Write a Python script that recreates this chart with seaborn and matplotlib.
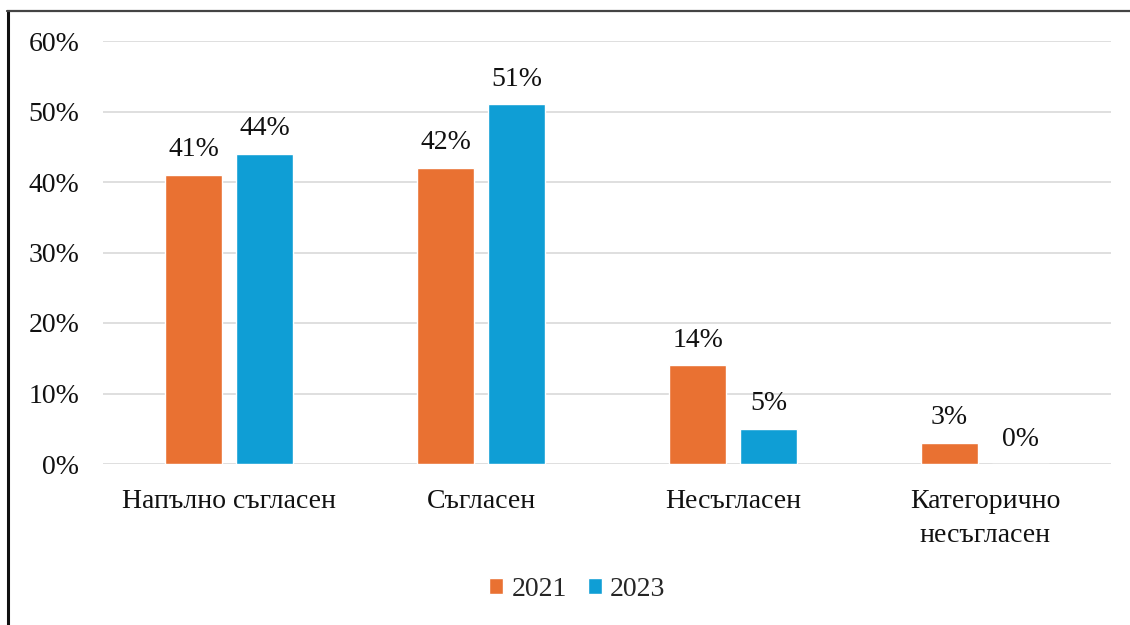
import matplotlib
matplotlib.use("Agg")
import matplotlib.pyplot as plt
from matplotlib.lines import Line2D
from matplotlib.ticker import PercentFormatter
import seaborn as sns
import pandas as pd

categories = ["Напълно съгласен", "Съгласен", "Несъгласен", "Категорично\nнесъгласен"]
years = ["2021", "2023"]
values_2021 = [41, 42, 14, 3]
values_2023 = [44, 51, 5, 0]
y_ticks = [0, 10, 20, 30, 40, 50, 60]

colors = {"2021": "#E97132", "2023": "#0F9ED5"}

df = pd.DataFrame({
    "category": categories * 2,
    "year": [years[0]] * len(categories) + [years[1]] * len(categories),
    "value": values_2021 + values_2023,
})

sns.set_theme(style="white")
plt.rcParams["font.family"] = ["Liberation Serif", "DejaVu Serif"]

fig = plt.figure(figsize=(11.3, 6.25), dpi=100)
ax = fig.add_axes([0.0912, 0.2576, 0.8920, 0.6768])

sns.barplot(data=df, x="category", y="value", hue="year", order=categories,
            hue_order=years, palette=colors, width=0.563, gap=0.2,
            saturation=1, ax=ax, legend=True)

ax.set_ylim(0, 60)
ax.set_xlim(-0.5, len(categories) - 0.5)
ax.set_yticks(y_ticks)
ax.yaxis.set_major_formatter(PercentFormatter(decimals=0))
ax.grid(axis="y", color="#D9D9D9", linewidth=1.2)
ax.set_axisbelow(True)
for s in ax.spines.values():
    s.set_visible(False)
ax.set_xlabel("")
ax.set_ylabel("")
ax.tick_params(axis="x", length=0, pad=18, labelsize=20, colors="#111111")
ax.tick_params(axis="y", length=0, pad=17, labelsize=20, colors="#111111")
for lbl in ax.get_xticklabels():
    lbl.set_linespacing(1.5)

for container in ax.containers:
    ax.bar_label(container, labels=[f"{v:.0f}%" for v in container.datavalues],
                 padding=9, fontsize=20, color="#111111")

handles, labels = ax.get_legend_handles_labels()
ax.get_legend().remove()
fig.legend(handles, labels, loc="center", bbox_to_anchor=(0.511, 0.057),
           ncol=2, frameon=False, fontsize=20, handlelength=0.5,
           handleheight=0.5, handletextpad=0.3, columnspacing=0.75)

# frame lines along the left and top edges
fig.add_artist(Line2D([0.0071, 0.0071], [0.0, 0.9825], color="#111111",
                      linewidth=2.2, transform=fig.transFigure))
fig.add_artist(Line2D([0.0062, 1.0], [0.9825, 0.9825], color="#444444",
                      linewidth=1.6, transform=fig.transFigure))

fig.savefig("out.png", dpi=100, facecolor="white")
